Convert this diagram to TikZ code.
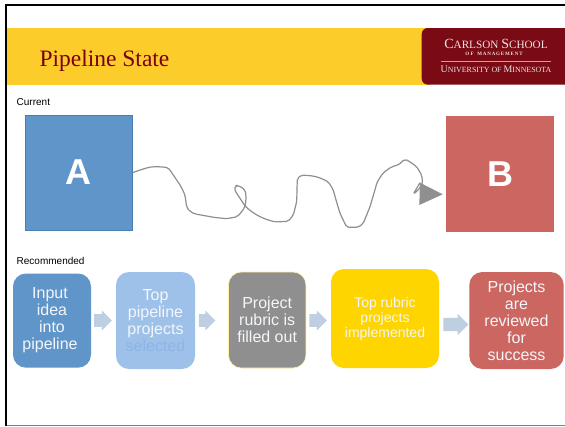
\documentclass[tikz,border=0pt]{standalone}
\usepackage{fontspec}
\setmainfont{Liberation Sans}
\newfontfamily\serifface{Liberation Serif}
\usetikzlibrary{shapes.arrows}
\definecolor{bandgold}{HTML}{FCCC2B}
\definecolor{maroonlogo}{HTML}{7A0A14}
\definecolor{titlemaroon}{HTML}{7A0019}
\definecolor{sqblue}{HTML}{5F95C9}
\definecolor{sqblueedge}{HTML}{4A7EB0}
\definecolor{sqred}{HTML}{CC6660}
\definecolor{lightblue}{HTML}{9EC1EA}
\definecolor{selectedblue}{HTML}{8DB5E6}
\definecolor{midgray}{HTML}{8F8F8F}
\definecolor{yellowbox}{HTML}{FFD500}
\definecolor{arrowblue}{HTML}{BFCFE2}
\definecolor{softtext}{HTML}{F3F6FA}
\newcommand{\shaft}[1]{\rule{0pt}{#1}}
\newcommand{\shl}{\hspace*{4pt}}
\tikzset{
  x=1pt,y=-1pt,
  square/.style={draw=#1,line width=.6pt,inner sep=0pt,font=\fontsize{36}{38}\selectfont\bfseries,text=white},
  stepbox/.style={rounded corners=13pt,inner sep=0pt,align=center,text=softtext,font=\fontsize{16}{17}\selectfont},
  flowarrow/.style={single arrow,fill=arrowblue,draw=none,inner sep=0pt,single arrow head extend=3.6pt,shape border rotate=0},
  caption/.style={anchor=base west,inner sep=0pt,font=\fontsize{10}{12}\selectfont},
  squiggle/.style={draw=midgray,line width=1.2pt,line join=round,rounded corners=2pt}
}
\begin{document}
\begin{tikzpicture}
\useasboundingbox (0,0) rectangle (565,426);
\fill[white] (0,0) rectangle (565,426);
% slide frame
\draw[black,line width=2pt] (6,426) -- (6,5) -- (565,5);
\draw[gray,line width=1pt] (6.5,425.3) -- (565,425.3);
% header
\fill[bandgold] (7,28) rectangle (430,84.6);
\fill[maroonlogo,rounded corners=6pt] (421.7,28) rectangle (575,84.6);
\node[anchor=base west,inner sep=0pt,text=titlemaroon,font=\serifface\fontsize{23.5}{26}\selectfont] (title) at (39.3,66.5) {Pipeline State};
\node[anchor=base,inner sep=0pt,text=white!88!maroonlogo,font=\serifface\fontsize{14}{14}\selectfont] (logoa) at (496,48.5) {C\fontsize{11.2}{14}\selectfont ARLSON \fontsize{14}{14}\selectfont S\fontsize{11.2}{14}\selectfont CHOOL};
\node[anchor=base,inner sep=0pt,text=white!88!maroonlogo,font=\serifface\bfseries\fontsize{5}{6}\selectfont] (logob) at (494,55.5) {O F\ \ \ M\,A\,N\,A\,G\,E\,M\,E\,N\,T};
\draw[white!60!maroonlogo,line width=.5pt] (441,61.5) -- (551,61.5);
\node[anchor=base,inner sep=0pt,text=white!88!maroonlogo,font=\serifface\fontsize{9.9}{11}\selectfont] (logoc) at (496,72.5) {U\fontsize{7.9}{11}\selectfont NIVERSITY OF \fontsize{9.9}{11}\selectfont M\fontsize{7.9}{11}\selectfont INNESOTA};
% current
\node[caption] (current) at (16.5,105) {Current};
\node[square=sqblueedge,fill=sqblue,minimum width=107.5pt,minimum height=115pt] (A) at (78.8,172.5) {\raisebox{-1pt}{A}};
\node[square=sqred,fill=sqred,minimum width=107.4pt,minimum height=115.5pt] (B) at (500,173.7) {\raisebox{-1.5pt}{B}};
\coordinate (headtop) at (420,182.7);
\coordinate (headtip) at (442.7,194.3);
\coordinate (headbot) at (419.3,205);
\draw[squiggle] (A.east) -- (143.3,169)
  -- (148,167.5) -- (153.3,166.7) -- (161,166.8) -- (168.3,167.7) -- (176.7,180) -- (181,186.5) -- (185,195)
  -- (185.8,201) -- (186.7,207.3) -- (190,211.5) -- (195,214) -- (204,215.5) -- (213.3,217.3) -- (226.7,218.7)
  -- (237.3,216.7) -- (241.5,212) -- (245,206.7) -- (246,200) -- (246,195) -- (245,190) -- (241.7,187.3)
  -- (238,185.5) -- (235.5,185.5) -- (234.3,189.3) -- (236.5,193) -- (240,198.3) -- (245,206) -- (250,210.5) -- (256.7,215)
  -- (265,219) -- (275,222) -- (288.3,221.3) -- (293.3,215) -- (296.7,201.7) -- (297.3,178.3) -- (301.7,175)
  -- (313.3,176) -- (319,177.5) -- (328.3,181.7) -- (333.3,190) -- (336,200) -- (340,213.3) -- (346.7,227.3)
  -- (358.3,227.3) -- (363.3,223.3) -- (370,206.7) -- (377.3,181.7) -- (383.3,172.7) -- (391.7,166.7) -- (398.3,165)
  -- (405,159) -- (411,162.5) -- (416.7,166.7) -- (421.7,175) -- (422.7,183.3) -- (418,190.5) -- (413.3,194) -- (headtop);
\fill[midgray] (headtop) -- (headtip) -- (headbot) -- cycle;
% recommended
\node[caption] (recommended) at (16.5,264.5) {Recommended};
\node[stepbox,fill=sqblue,minimum width=78pt,minimum height=94.2pt] (s1) at (52,320.6) {Input\shl\\idea\shl\\into\shl\\pipeline\shl};
\node[stepbox,fill=lightblue,minimum width=79pt,minimum height=97pt] (s2) at (155.5,320.5) {Top\\pipeline\\projects\\\textcolor{selectedblue}{selected}};
\node[stepbox,fill=midgray,draw=yellowbox!35!white,line width=.6pt,minimum width=77.5pt,minimum height=96pt] (s3) at (267.2,320) {Project\\rubric is\\filled out};
\node[stepbox,fill=yellowbox,minimum width=108pt,minimum height=99pt,font=\fontsize{14}{15}\selectfont] (s4) at (385,318.5) {Top rubric\\projects\\implemented};
\node[stepbox,fill=sqred,minimum width=94.4pt,minimum height=97pt] (s5) at (516.5,320.5) {Projects\\are\\reviewed\\for\\success};
\node[flowarrow,minimum height=17.7pt] (f1) at (99.8,320.5) {\shaft{12.3pt}};
\node[flowarrow,minimum height=16.5pt] (f2) at (204,320.5) {\shaft{12.3pt}};
\node[flowarrow,minimum height=17.5pt] (f3) at (315,320.5) {\shaft{12.3pt}};
\node[flowarrow,minimum height=25pt,single arrow head extend=4pt] (f4) at (452.5,324.5) {\shaft{13pt}};
\end{tikzpicture}
\end{document}
